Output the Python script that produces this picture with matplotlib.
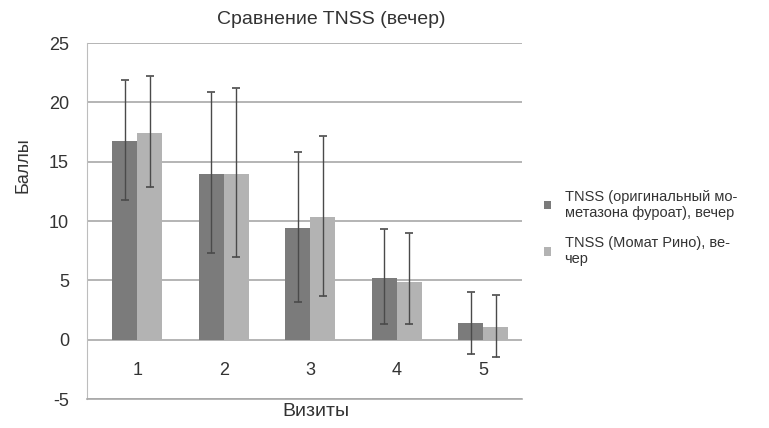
import matplotlib.pyplot as plt
import numpy as np

visits = [1, 2, 3, 4, 5]
original_mean = [16.7, 14.0, 9.4, 5.2, 1.4]
original_hi = [21.9, 20.9, 15.8, 9.3, 4.0]
original_lo = [11.8, 7.3, 3.2, 1.3, -1.2]
momat_mean = [17.4, 14.0, 10.3, 4.9, 1.1]
momat_hi = [22.2, 21.2, 17.2, 9.0, 3.8]
momat_lo = [12.9, 7.0, 3.7, 1.3, -1.5]

legend_labels = ["TNSS (оригинальный мо-\nметазона фуроат), вечер",
                 "TNSS (Момат Рино), ве-\nчер"]

plt.rcParams['font.family'] = ['Liberation Sans', 'DejaVu Sans']
plt.rcParams['axes.unicode_minus'] = False

fig = plt.figure(figsize=(7.69, 4.28), dpi=100)
ax = fig.add_axes([87 / 769, 1 - 399 / 428, 435 / 769, 356 / 428])

x = np.array(visits, dtype=float)
w = 0.29
dark = '#7b7b7b'
light = '#b3b3b3'
txt = '#333333'

ax.bar(x - w / 2, original_mean, w, color=dark, zorder=2, label=legend_labels[0])
ax.bar(x + w / 2, momat_mean, w, color=light, zorder=2, label=legend_labels[1])

om = np.array(original_mean)
mm = np.array(momat_mean)
ax.errorbar(x - w / 2, om, yerr=[om - np.array(original_lo), np.array(original_hi) - om],
            fmt='none', ecolor='#4a4a4a', elinewidth=1, capsize=3, capthick=1.2, zorder=3)
ax.errorbar(x + w / 2, mm, yerr=[mm - np.array(momat_lo), np.array(momat_hi) - mm],
            fmt='none', ecolor='#4a4a4a', elinewidth=1, capsize=3, capthick=1.2, zorder=3)

ax.set_ylim(-5, 25)
ax.set_xlim(0.42, 5.45)
ax.set_yticks(range(-5, 26, 5))
ax.set_xticks([])
for v in visits:
    ax.text(v, -2.6, str(v), ha='center', va='center', fontsize=13, color=txt)

ax.grid(axis='y', color='#a8a8a8', linewidth=1.2, zorder=0)
for s in ['top', 'right']:
    ax.spines[s].set_visible(False)
ax.spines['left'].set_color('#bdbdbd')
ax.spines['bottom'].set_color('#a8a8a8')
ax.spines['bottom'].set_linewidth(1.2)
ax.tick_params(axis='y', length=0, labelsize=13, colors=txt, pad=13)

fig.text(331 / 769, 1 - 20 / 428, "Сравнение TNSS (вечер)", ha='center', va='center',
         fontsize=14, color=txt)
fig.text(316 / 769, 1 - 412 / 428, "Визиты", ha='center', va='center',
         fontsize=14, color=txt)
fig.text(23 / 769, 1 - 165 / 428, "Баллы", ha='center', va='center', rotation=90,
         fontsize=13, color=txt)

leg = fig.legend(loc='center left', bbox_to_anchor=(531 / 769, 1 - 228 / 428),
                 frameon=False, fontsize=10.5, handlelength=0.5, handleheight=0.5,
                 labelspacing=1.1, handletextpad=0.9, labelcolor=txt)

fig.savefig("out.png", dpi=100)
